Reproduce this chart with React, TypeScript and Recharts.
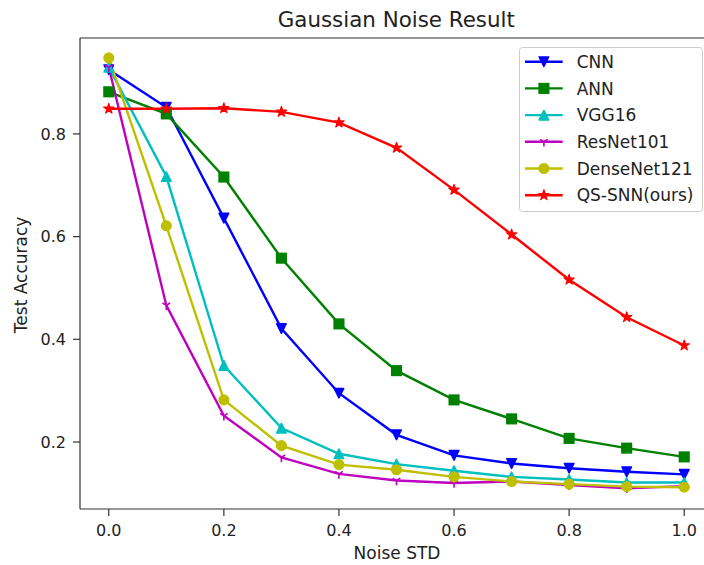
import React from 'react';
import { LineChart, Line, XAxis, YAxis, Legend, ReferenceLine } from 'recharts';

const NOISE = [0, 0.1, 0.2, 0.3, 0.4, 0.5, 0.6, 0.7, 0.8, 0.9, 1.0];
const CNN = [0.925, 0.852, 0.636, 0.421, 0.295, 0.214, 0.174, 0.158, 0.149, 0.142, 0.137];
const ANN = [0.882, 0.839, 0.716, 0.558, 0.43, 0.339, 0.282, 0.245, 0.207, 0.188, 0.171];
const VGG16 = [0.93, 0.717, 0.349, 0.227, 0.177, 0.157, 0.144, 0.132, 0.127, 0.121, 0.121];
const RESNET101 = [0.93, 0.466, 0.251, 0.17, 0.138, 0.125, 0.12, 0.123, 0.116, 0.11, 0.114];
const DENSENET121 = [0.948, 0.621, 0.282, 0.193, 0.156, 0.146, 0.132, 0.123, 0.118, 0.113, 0.112];
const QSSNN = [0.849, 0.849, 0.85, 0.843, 0.822, 0.773, 0.691, 0.604, 0.516, 0.443, 0.388];

const X_TICKS = [0, 0.2, 0.4, 0.6, 0.8, 1.0];
const Y_TICKS = [0.2, 0.4, 0.6, 0.8];
const X_DOMAIN = [-0.05, 1.05];
const Y_DOMAIN = [0.0695, 0.9868];

const TITLE = 'Gaussian Noise Result';
const X_LABEL = 'Noise STD';
const Y_LABEL = 'Test Accuracy';

const SERIES = [
  { name: 'CNN', values: CNN, color: '#0000ff', shape: 'v' },
  { name: 'ANN', values: ANN, color: '#008000', shape: 's' },
  { name: 'VGG16', values: VGG16, color: '#00bfbf', shape: '^' },
  { name: 'ResNet101', values: RESNET101, color: '#bf00bf', shape: '1' },
  { name: 'DenseNet121', values: DENSENET121, color: '#bfbf00', shape: 'o' },
  { name: 'QS-SNN(ours)', values: QSSNN, color: '#ff0000', shape: '*' },
];

const rows = NOISE.map((x, i) => {
  const r: any = { x };
  SERIES.forEach((s) => {
    r[s.name] = s.values[i];
  });
  return r;
});

const FONT = '"DejaVu Sans", "Liberation Sans", sans-serif';
const TEXT = '#222';
const SPINE = '#333';

function Marker({ shape, x, y, color }: { shape: string; x: number; y: number; color: string }) {
  const h = 4.8;
  const sw = 1.5;
  if (shape === 'v') {
    return (
      <polygon
        points={`${x},${y + h} ${x - h},${y - h} ${x + h},${y - h}`}
        fill={color}
        stroke={color}
        strokeWidth={sw}
        strokeLinejoin="round"
      />
    );
  }
  if (shape === '^') {
    return (
      <polygon
        points={`${x},${y - h} ${x - h},${y + h} ${x + h},${y + h}`}
        fill={color}
        stroke={color}
        strokeWidth={sw}
        strokeLinejoin="round"
      />
    );
  }
  if (shape === 's') {
    return <rect x={x - h} y={y - h} width={2 * h} height={2 * h} fill={color} stroke={color} strokeWidth={sw} />;
  }
  if (shape === 'o') {
    return <circle cx={x} cy={y} r={h} fill={color} stroke={color} strokeWidth={sw} />;
  }
  if (shape === '*') {
    const R = 5.4;
    const r = R * 0.382;
    const pts: string[] = [];
    for (let i = 0; i < 10; i++) {
      const a = ((-90 + i * 36) * Math.PI) / 180;
      const rr = i % 2 === 0 ? R : r;
      pts.push(`${x + rr * Math.cos(a)},${y + rr * Math.sin(a)}`);
    }
    return <polygon points={pts.join(' ')} fill={color} stroke={color} strokeWidth={1.2} strokeLinejoin="round" />;
  }
  // tri_down ('1')
  return (
    <g stroke={color} strokeWidth={1.6} fill="none">
      <line x1={x} y1={y} x2={x} y2={y + h} />
      <line x1={x} y1={y} x2={x + 0.8 * h} y2={y - 0.5 * h} />
      <line x1={x} y1={y} x2={x - 0.8 * h} y2={y - 0.5 * h} />
    </g>
  );
}

function makeDot(shape: string, color: string) {
  return (p: any) => {
    const key = `dot-${shape}-${p.index}`;
    if (p.cx == null || p.cy == null) return <g key={key} />;
    return (
      <g key={key}>
        <Marker shape={shape} x={p.cx} y={p.cy} color={color} />
      </g>
    );
  };
}

function LegendBox() {
  const W = 184;
  const H = 165;
  return (
    <svg width={W} height={H} style={{ display: 'block', overflow: 'visible' }}>
      <rect x={0.5} y={0.5} width={W - 1} height={H - 1} rx={3} ry={3} fill="#fff" fillOpacity={0.85} stroke="#cccccc" strokeWidth={1} />
      {SERIES.map((s, i) => {
        const cy = 14.7 + 26.7 * i;
        return (
          <g key={s.name}>
            <line x1={6} y1={cy} x2={43.7} y2={cy} stroke={s.color} strokeWidth={2.4} />
            <Marker shape={s.shape} x={24.9} y={cy} color={s.color} />
            <text x={57.7} y={cy} dy="0.36em" fontSize={17} fontFamily={FONT} fill={TEXT}>
              {s.name}
            </text>
          </g>
        );
      })}
    </svg>
  );
}

export default function App() {
  return (
    <div
      style={{
        position: 'fixed',
        left: 0,
        top: 0,
        width: 704,
        height: 565,
        overflow: 'hidden',
        background: '#fff',
      }}
    >
      <LineChart width={730} height={565} data={rows} margin={{ top: 38, right: 17, left: 0, bottom: 0 }}>
        <XAxis
          xAxisId="b"
          dataKey="x"
          type="number"
          domain={X_DOMAIN}
          allowDataOverflow
          ticks={X_TICKS}
          tickFormatter={(v: number) => v.toFixed(1)}
          height={56}
          tickSize={7}
          tickMargin={9}
          tick={{ fill: TEXT, fontSize: 16, fontFamily: FONT }}
          axisLine={{ stroke: SPINE, strokeWidth: 1.2 }}
          tickLine={{ stroke: SPINE, strokeWidth: 1.2 }}
        />
        <YAxis
          type="number"
          domain={Y_DOMAIN}
          allowDataOverflow
          ticks={Y_TICKS}
          tickFormatter={(v: number) => v.toFixed(1)}
          width={80}
          tickSize={7}
          tickMargin={7}
          tick={{ fill: TEXT, fontSize: 16, fontFamily: FONT }}
          axisLine={{ stroke: SPINE, strokeWidth: 1.2 }}
          tickLine={{ stroke: SPINE, strokeWidth: 1.2 }}
        />
        <ReferenceLine xAxisId="b" y={Y_DOMAIN[1]} stroke={SPINE} strokeWidth={1.2} ifOverflow="visible" />
        {SERIES.map((s) => (
          <Line
            key={s.name}
            xAxisId="b"
            type="linear"
            dataKey={s.name}
            name={s.name}
            stroke={s.color}
            strokeWidth={2.4}
            dot={makeDot(s.shape, s.color)}
            activeDot={false}
            isAnimationActive={false}
          />
        ))}
        <Legend
          layout="vertical"
          align="center"
          verticalAlign="middle"
          content={() => <LegendBox />}
          wrapperStyle={{ position: 'absolute', left: 519, top: 47, width: 184, height: 165 }}
        />
      </LineChart>
      <svg
        width={704}
        height={565}
        style={{ position: 'absolute', left: 0, top: 0, pointerEvents: 'none' }}
      >
        <text x={396.3} y={26.7} textAnchor="middle" fontSize={21.4} fontFamily={FONT} fill={TEXT}>
          {TITLE}
        </text>
        <text x={397} y={559.3} textAnchor="middle" fontSize={17} fontFamily={FONT} fill={TEXT}>
          {X_LABEL}
        </text>
        <text
          x={27.4}
          y={274.9}
          textAnchor="middle"
          fontSize={17}
          fontFamily={FONT}
          fill={TEXT}
          transform="rotate(-90, 27.4, 274.9)"
        >
          {Y_LABEL}
        </text>
      </svg>
    </div>
  );
}
